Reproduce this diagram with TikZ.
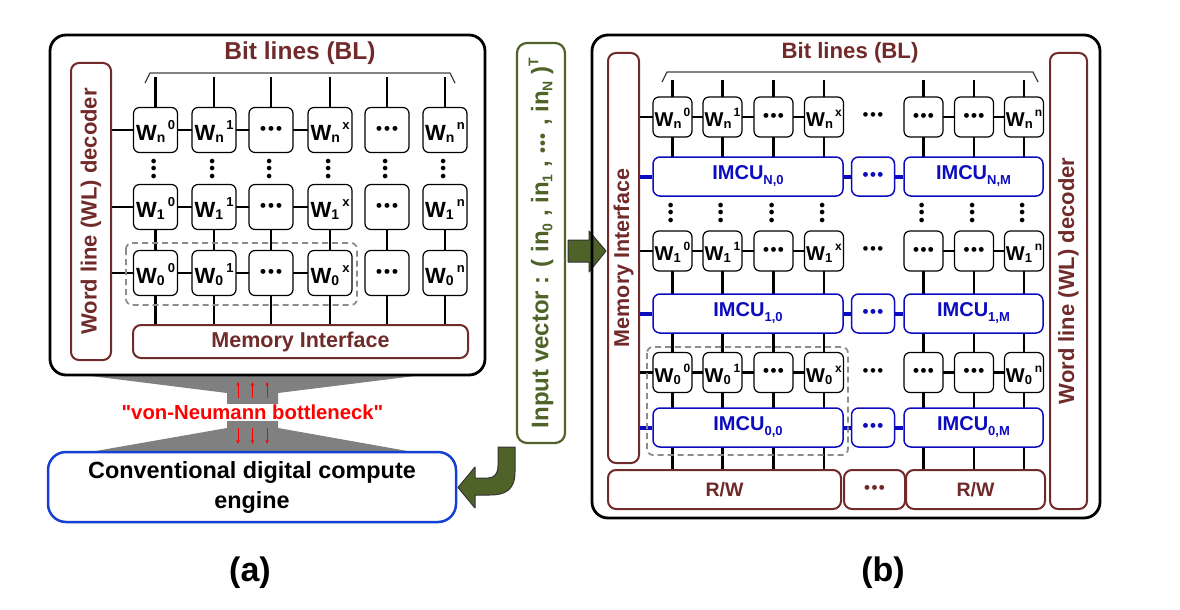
\documentclass[tikz,border=0pt]{standalone}
\usepackage{fontspec}
\setmainfont{Liberation Sans}
\setmonofont{Liberation Sans}
\usetikzlibrary{backgrounds,arrows.meta}
\definecolor{maroon}{RGB}{112,42,42}
\definecolor{imblue}{RGB}{12,12,190}
\definecolor{ceblue}{RGB}{22,64,212}
\definecolor{vgreen}{RGB}{79,98,40}
\definecolor{dgray}{RGB}{140,140,140}
\definecolor{fgray}{RGB}{128,128,128}
\newcommand\fsz[1]{\fontsize{#1}{#1}\selectfont\bfseries}
\newcommand\Wl[2]{W\rlap{\raisebox{-2pt}{\fsz{14}#1}}\kern11pt\raisebox{11pt}{\fsz{13}#2}}
\newcommand\Wr[2]{W\rlap{\raisebox{-2pt}{\fsz{13}#1}}\kern10pt\raisebox{10pt}{\fsz{12}#2}}
\newcommand\onedot[1]{\makebox[#1][c]{\fontsize{17}{17}\selectfont\textbullet}}
\newcommand\mydots{\onedot{8pt}\onedot{8pt}\onedot{8pt}}
\newcommand\smdots{\onedot{7.3pt}\onedot{7.3pt}\onedot{7.3pt}}
\newcommand\imsub[1]{\raisebox{-5pt}{\fsz{13}#1}}
\newcommand\insub[1]{\raisebox{-4pt}{\fsz{14}#1}}
\newcommand\sq{{\ttfamily\bfseries"}}
\tikzset{
  frame/.style={draw, line width=2.8pt, rounded corners=16pt, inner sep=0pt},
  cellL/.style={draw, line width=1.2pt, rounded corners=6pt, fill=white, minimum width=44pt, minimum height=45pt, inner sep=0pt, font=\fsz{22}},
  cellR/.style={draw, line width=1.2pt, rounded corners=6pt, fill=white, minimum width=39pt, minimum height=40pt, inner sep=0pt, font=\fsz{20}},
  wtxtL/.style={text height=21pt, text depth=0pt},
  wtxtR/.style={text height=19pt, text depth=0pt},
  mbox/.style={draw=maroon, line width=2pt, rounded corners=8pt, fill=white, text=maroon, inner sep=0pt},
  ibox/.style={draw=imblue, line width=1.5pt, rounded corners=7pt, fill=white, text=imblue, inner sep=0pt, font=\fsz{20}, minimum height=39pt},
  bline/.style={line width=2.6pt},
  iline/.style={line width=4pt, draw=imblue},
  dashbox/.style={draw=dgray, dash pattern=on 6pt off 4pt, line width=1.8pt, rounded corners=6pt},
  lbl/.style={text=maroon, inner sep=0pt},
  brace/.style={draw=black!75, line width=1.2pt},
  vd/.style={rotate=90, inner sep=0pt},
  redarr/.style={draw=red, line width=0.9pt, -{Stealth[length=4pt,width=3.5pt]}},
  garrow/.style={fill=vgreen, draw=black!80, line width=1pt, line join=round},
  plain/.style={inner sep=0pt}
}
\begin{document}
\begin{tikzpicture}[x=1pt,y=-1pt]
\useasboundingbox (0,0) rectangle (1180,610);

% ---------------- (a) ----------------
\fill[fgray] (83,375) -- (423,375) -- (278,393) -- (278,428) -- (413,452) -- (90,452) -- (227,428) -- (227,393) -- cycle;
\node[frame, minimum width=435pt, minimum height=340pt] (Lframe) at (267.5,205) {};
\node[lbl, font=\fsz{24.5}] (LBL) at (300,53) {Bit lines (BL)};
\draw[brace] (145,83) -- (150,73) -- (450,73) -- (455,83);
\node[mbox, rotate=90, minimum width=297pt, minimum height=40pt, font=\fsz{22}] (LWL) at (91,211.5) {Word line (WL) decoder};
\node[mbox, minimum width=335pt, minimum height=33pt, font=\fsz{21.5}] (LMI) at (300.5,341.5) {Memory Interface};

\foreach \rw/\yy in {n/130,1/207,0/273}{
  \foreach \cl/\xx/\supv in {1/155.5/0,2/214/1,4/330/x,6/445/n}
    \node[cellL,wtxtL] (L-\rw-\cl) at (\xx,\yy) {\Wl{\rw}{\supv}};
  \foreach \cl/\xx in {3/271,5/387}
    \node[cellL] (L-\rw-\cl) at (\xx,\yy) {\mydots};
}
\foreach \cl/\xx in {1/155.5,2/214,3/271,4/330,5/387,6/445}{
  \coordinate (Lt-\cl) at (\xx,77);
  \node[vd] (Lv-\cl) at (\xx,169) {\smdots};
}
\begin{pgfonlayer}{background}
  \foreach \cl in {1,...,6}{
    \draw[bline] (Lt-\cl) -- (L-n-\cl.center);
    \draw[bline] (L-1-\cl.center) -- (L-1-\cl.center |- LMI.north);
  }
  \foreach \rw in {n,1,0}
    \draw[bline] (LWL.south |- L-\rw-1.center) -- (L-\rw-4.center);
\end{pgfonlayer}
\draw[dashbox] (126,243) rectangle (357,305);

\node[plain, fill=white, inner sep=1.5pt, text=red, font=\fsz{20.3}] (VN) at (252.5,412.5) {\sq von-Neumann bottleneck\sq};
\foreach \k/\xx in {1/238,2/252.5,3/267}{
  \coordinate (us\k) at (\xx,398);
  \coordinate (ue\k) at (\xx,382);
  \coordinate (ds\k) at (\xx,428);
  \coordinate (de\k) at (\xx,444);
  \draw[redarr] (us\k) -- (ue\k);
  \draw[redarr] (ds\k) -- (de\k);
}
\node[draw=ceblue, line width=2.5pt, rounded corners=18pt, fill=white, minimum width=408pt, minimum height=70pt, align=center, font=\fontsize{23.4}{30}\selectfont\bfseries] (CCE) at (252,487) {Conventional digital compute\\engine};
\node[plain, font=\fsz{34}] (La) at (250,573) {(a)};

% ---------------- input vector ----------------
\node[draw=vgreen, line width=2.2pt, rounded corners=10pt, rotate=90, minimum width=400pt, minimum height=48pt, inner sep=0pt, text=vgreen, font=\fsz{24}] (INP) at (541,243) {Input vector : ( in\insub{0} , in\insub{1} , \smdots\ , in\insub{N} )\raisebox{10pt}{\fsz{14}T}};
\draw[garrow] (568,240) -- (589,240) -- (589,231) -- (606,251) -- (589,272) -- (589,262) -- (568,262) -- cycle;
\draw[garrow] (498,447) -- (515,447) -- (515,472) .. controls (515,490) and (505,495) .. (490,495) -- (475,495) -- (475,508) -- (458,487.5) -- (475,467) -- (475,478) -- (488,478) .. controls (494,478) and (498,474) .. (498,466) -- cycle;

% ---------------- (b) ----------------
\node[frame, minimum width=508pt, minimum height=483pt] (Rframe) at (846,276.5) {};
\node[lbl, font=\fsz{22.2}] (RBL) at (850,53) {Bit lines (BL)};
\draw[brace] (662,82) -- (667,72) -- (1033,72) -- (1038,82);
\node[mbox, rotate=90, minimum width=410pt, minimum height=31pt, font=\fsz{21.5}] (RMI) at (623.5,258) {Memory Interface};
\node[mbox, rotate=90, minimum width=456pt, minimum height=37pt, font=\fsz{22}] (RWL) at (1068.5,281) {Word line (WL) decoder};

\node[mbox, minimum width=233pt, minimum height=39pt, font=\fsz{19.5}] (RW0) at (724.5,489.5) {R/W};
\node[mbox, minimum width=61pt, minimum height=39pt, font=\fsz{20}] (RWd) at (874.5,489.5) {\smdots};
\node[mbox, minimum width=139pt, minimum height=39pt, font=\fsz{19.5}] (RWM) at (975.5,489.5) {R/W};

\foreach \im/\yy in {N/176.5,1/313.5,0/427.5}{
  \node[ibox, minimum width=190pt] (I\im0) at (748,\yy) {IMCU\imsub{\im,0}};
  \node[ibox, minimum width=43pt] (I\im d) at (873,\yy) {\smdots};
  \node[ibox, minimum width=139pt] (I\im M) at (973.5,\yy) {IMCU\imsub{\im,M}};
  \draw[iline] (RMI.south |- I\im0.center) -- (I\im0.west);
  \draw[iline] (I\im0.east) -- (I\im d.west);
  \draw[iline] (I\im d.east) -- (I\im M.west);
}

\foreach \rw/\yy in {n/117,1/251,0/372.5}{
  \foreach \cl/\xx/\supv in {1/672.5/0,2/722.5/1,4/824/x,7/1024/n}
    \node[cellR,wtxtR] (R-\rw-\cl) at (\xx,\yy) {\Wr{\rw}{\supv}};
  \foreach \cl/\xx in {3/773.5,5/923.5,6/974}
    \node[cellR] (R-\rw-\cl) at (\xx,\yy) {\smdots};
  \node[plain] (Rm-\rw) at (873,\yy) {\smdots};
}
\foreach \cl/\xx in {1/672.5,2/722.5,3/773.5,4/824,5/923.5,6/974,7/1024}{
  \coordinate (Rt-\cl) at (\xx,80);
  \node[vd] (Rv-\cl) at (\xx,213) {\smdots};
}
\begin{pgfonlayer}{background}
  \foreach \cl in {1,...,7}{
    \draw[bline] (Rt-\cl) -- (R-n-\cl.center |- IN0.center);
    \draw[bline] (R-1-\cl.center) -- (R-1-\cl.center |- RW0.north);
  }
  \foreach \rw in {n,1,0}{
    \draw[bline] (RMI.south |- R-\rw-1.center) -- (R-\rw-4.center);
    \draw[bline] (R-\rw-5.center) -- (R-\rw-7.center);
  }
\end{pgfonlayer}
\draw[dashbox] (647,347) rectangle (848,455);
\node[plain, font=\fsz{34}] (Lb) at (883,573) {(b)};
\end{tikzpicture}
\end{document}
